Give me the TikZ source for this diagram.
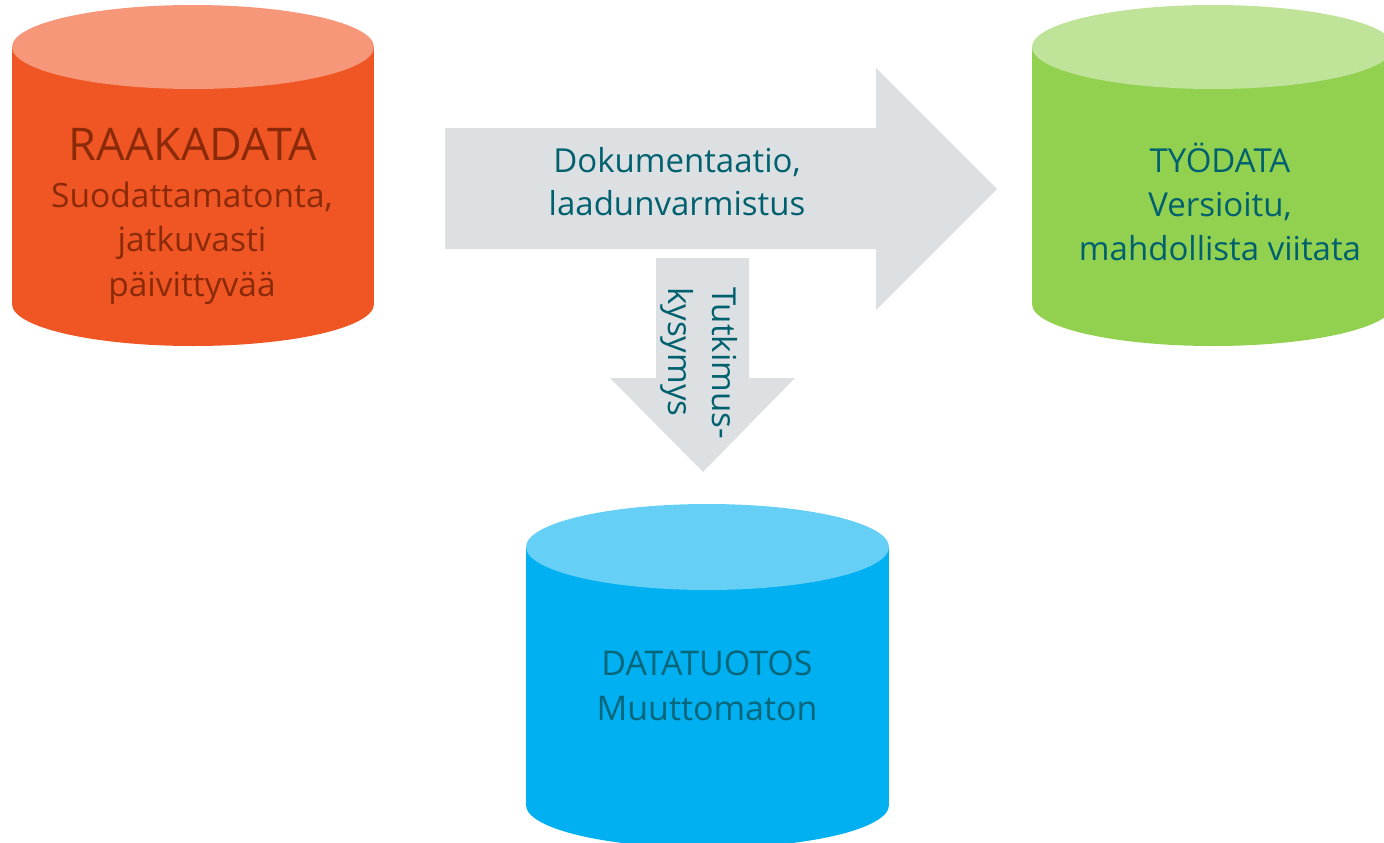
\documentclass[tikz,border=0pt]{standalone}
\usepackage{fontspec}
\setmainfont{Open Sans}
\definecolor{orSide}{HTML}{F05623}
\definecolor{orTop}{HTML}{F6977A}
\definecolor{grSide}{HTML}{92D050}
\definecolor{grTop}{HTML}{C0E39A}
\definecolor{blSide}{HTML}{00B0F0}
\definecolor{blTop}{HTML}{66CFF6}
\definecolor{arrGray}{HTML}{DDE0E3}
\definecolor{tealText}{HTML}{00606E}
\definecolor{brownText}{HTML}{8A2A08}
\definecolor{blueText}{HTML}{06667A}
\begin{document}
\begin{tikzpicture}[x=1pt,y=-1pt,
  lbl/.style={inner sep=0pt, anchor=base},
  big/.style={font=\fontsize{33}{44}\selectfont},
  huge/.style={font=\fontsize{45}{48}\selectfont}]
\useasboundingbox (0,0) rectangle (1384,843);
\clip (0,0) rectangle (1384,843);
% orange cylinder
\fill[orSide] (193,304) ellipse[x radius=181, y radius=42];
\fill[orSide] (12,47) rectangle (374,304);
\fill[orTop] (193,47) ellipse[x radius=181, y radius=42];
% green cylinder
\fill[grSide] (1213,304) ellipse[x radius=181, y radius=42];
\fill[grSide] (1032,47) rectangle (1394,304);
\fill[grTop] (1213,47) ellipse[x radius=181, y radius=42];
% blue cylinder
\fill[blSide] (707.5,805) ellipse[x radius=181.5, y radius=43];
\fill[blSide] (526,547) rectangle (889,805);
\fill[blTop] (707.5,547) ellipse[x radius=181.5, y radius=43];
% arrows
\fill[arrGray] (445,128) -- (876,128) -- (876,68) -- (997,189) -- (876,310) -- (876,249) -- (445,249) -- cycle;
\fill[arrGray] (656,258) -- (749,258) -- (749,378) -- (795,378) -- (703,472) -- (610,378) -- (656,378) -- cycle;
% texts
\node[lbl, huge, text=brownText] (rawt) at (193,160) {RAAKADATA};
\node[lbl, font=\fontsize{33.5}{44}\selectfont, text=brownText] (raws1) at (192,207) {Suodattamatonta,};
\node[lbl, font=\fontsize{33.5}{44}\selectfont, text=brownText] (raws2) at (192,251) {jatkuvasti};
\node[lbl, font=\fontsize{33.5}{44}\selectfont, text=brownText] (raws3) at (192,296) {päivittyvää};
\node[lbl, big, text=tealText] (doc1) at (677,172) {Dokumentaatio,};
\node[lbl, big, text=tealText] (doc2) at (677,215) {laadunvarmistus};
\node[lbl, big, text=tealText] (work1) at (1220,172) {TYÖDATA};
\node[lbl, big, text=tealText] (work2) at (1220,216) {Versioitu,};
\node[lbl, big, text=tealText] (work3) at (1220,260) {mahdollista viitata};
\node[lbl, font=\fontsize{34}{44}\selectfont, text=blueText] (prod1) at (707,675) {DATATUOTOS};
\node[lbl, font=\fontsize{34}{44}\selectfont, text=blueText] (prod2) at (707,720) {Muuttomaton};
\node[inner sep=0pt, anchor=base west, rotate=-90, big, text=tealText] (rq1) at (712,287) {Tutkimus-};
\node[inner sep=0pt, anchor=base west, rotate=-90, big, text=tealText] (rq2) at (668,287) {kysymys};
\end{tikzpicture}
\end{document}
